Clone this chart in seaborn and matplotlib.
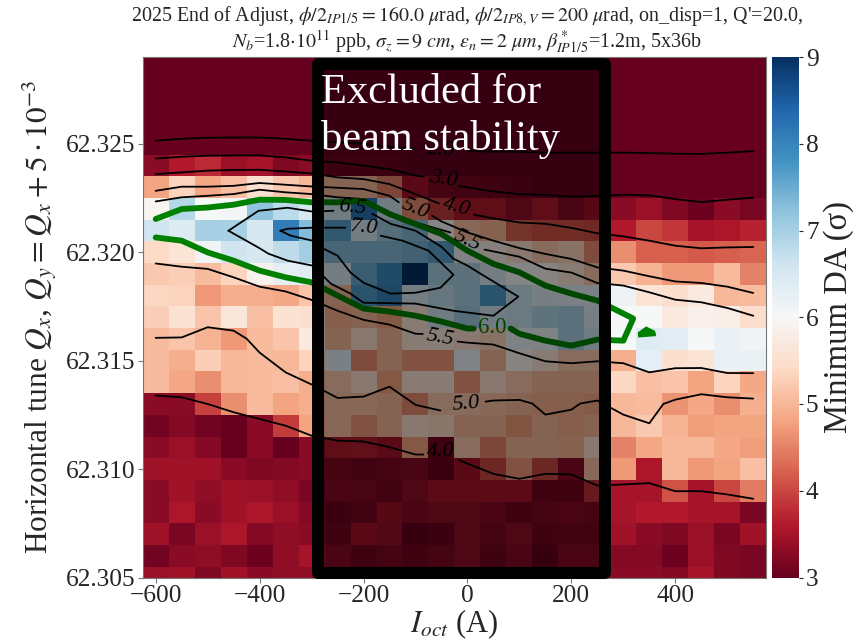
import numpy as np
import pandas as pd
import seaborn as sns
import matplotlib
matplotlib.use("Agg")
import matplotlib.pyplot as plt
from matplotlib.patches import Rectangle

# scan grid
ioct = [-600, -550, -500, -450, -400, -350, -300, -250, -200, -150, -100, -50,
        0, 50, 100, 150, 200, 250, 300, 350, 400, 450, 500, 550]
tunes = [62.329, 62.328, 62.327, 62.326, 62.325, 62.324, 62.323, 62.322, 62.321, 62.320, 62.319, 62.318,
         62.317, 62.316, 62.315, 62.314, 62.313, 62.312, 62.311, 62.310, 62.309, 62.308, 62.307, 62.306, 62.305]

# minimum DA, one row per tune, top of the plot first
floor_row = [3.0] * 24
min_da = [
    floor_row, floor_row, floor_row, floor_row, floor_row,
    [3.3, 3.6, 3.75, 3.4, 3.5, 3.2, 3.3, 3.05, 3.05, 3.05, 3.0, 3.0, 3.0, 3.0, 3.0, 3.0, 3.0, 3.0, 3.0, 3.0, 3.0, 3.0, 3.0, 3.0],
    [4.8, 5.3, 4.85, 5.1, 5.5, 5.2, 5.0, 5.0, 5.0, 4.5, 3.5, 3.2, 3.15, 3.1, 3.05, 3.0, 3.0, 3.0, 3.0, 3.0, 3.0, 3.0, 3.0, 3.0],
    [5.95, 6.85, 6.0, 6.05, 7.2, 6.8, 6.5, 6.6, 8.2, 6.6, 4.6, 3.9, 3.6, 3.6, 3.35, 3.6, 3.25, 3.45, 3.3, 3.4, 3.2, 3.05, 3.3, 3.15],
    [6.6, 6.4, 7.0, 7.0, 6.5, 8.1, 7.3, 7.6, 6.5, 7.1, 7.3, 6.0, 5.1, 4.95, 4.2, 4.1, 4.1, 4.05, 3.6, 4.0, 3.85, 3.5, 3.55, 3.7],
    [5.4, 5.6, 6.1, 6.6, 6.5, 6.75, 7.05, 7.3, 7.3, 7.3, 7.4, 7.6, 6.2, 5.8, 5.5, 5.2, 5.3, 4.6, 4.6, 4.2, 4.2, 4.15, 4.2, 4.25],
    [5.2, 5.25, 5.05, 5.3, 5.9, 6.3, 6.4, 6.5, 7.5, 7.9, 9.0, 7.0, 6.95, 6.5, 6.1, 5.9, 5.6, 5.2, 5.2, 4.95, 4.7, 4.7, 5.05, 4.5],
    [5.35, 5.3, 4.7, 4.9, 4.9, 4.85, 5.15, 5.0, 7.7, 8.0, 6.5, 6.8, 7.0, 7.7, 6.7, 6.4, 6.3, 6.3, 6.15, 5.6, 5.5, 5.7, 5.0, 5.05],
    [5.25, 5.55, 5.15, 5.65, 5.1, 5.55, 5.5, 4.9, 5.0, 4.8, 5.6, 6.6, 7.1, 6.6, 6.7, 6.9, 7.0, 6.4, 6.0, 6.0, 5.7, 5.85, 5.8, 5.45],
    [5.05, 5.15, 4.95, 4.7, 5.05, 5.15, 5.7, 5.0, 5.5, 5.0, 5.6, 5.7, 5.5, 5.3, 6.2, 6.2, 7.0, 6.6, 6.0, 6.4, 6.35, 6.0, 6.2, 6.1],
    [5.05, 4.9, 5.25, 5.0, 5.05, 5.0, 5.3, 6.3, 4.6, 5.0, 4.7, 4.7, 6.2, 5.0, 5.9, 5.6, 5.2, 5.2, 4.9, 6.3, 5.5, 5.6, 6.2, 6.2],
    [5.05, 4.85, 4.6, 5.0, 5.05, 5.1, 4.9, 5.2, 5.5, 4.8, 5.6, 5.6, 4.7, 5.5, 5.2, 5.0, 5.0, 5.0, 5.35, 5.1, 5.15, 4.8, 5.3, 4.85],
    [3.3, 3.3, 3.95, 4.6, 5.05, 4.8, 4.9, 5.1, 5.1, 5.0, 4.6, 5.2, 5.2, 5.1, 5.0, 4.9, 4.9, 4.85, 5.0, 5.05, 4.65, 4.85, 4.6, 4.9],
    [3.1, 3.25, 3.1, 3.02, 3.3, 3.9, 4.8, 5.1, 4.7, 5.0, 5.5, 5.4, 5.0, 5.0, 4.75, 5.0, 4.9, 5.0, 5.0, 5.2, 4.95, 4.75, 4.8, 4.8],
    [3.3, 3.4, 3.25, 3.02, 3.3, 3.02, 3.3, 3.6, 3.65, 3.5, 4.8, 3.1, 5.2, 4.5, 5.0, 5.0, 4.95, 5.5, 4.5, 4.85, 5.0, 5.0, 4.85, 4.75],
    [3.45, 3.45, 3.45, 3.3, 3.2, 3.25, 3.3, 3.2, 3.15, 3.2, 3.3, 3.05, 3.5, 4.0, 4.7, 4.0, 3.3, 5.1, 4.7, 3.55, 5.0, 4.7, 4.8, 5.1],
    [3.3, 3.45, 3.35, 3.45, 3.4, 3.35, 3.15, 3.3, 3.25, 3.15, 3.35, 3.55, 3.55, 3.55, 3.55, 3.1, 3.1, 3.8, 3.5, 3.5, 4.1, 3.5, 4.0, 4.45],
    [3.3, 3.55, 3.3, 3.45, 3.55, 3.4, 3.25, 3.05, 3.15, 3.45, 3.3, 3.35, 3.35, 3.3, 3.1, 3.2, 3.3, 3.2, 3.5, 3.6, 3.6, 3.5, 3.5, 3.15],
    [3.45, 3.15, 3.4, 3.55, 3.25, 3.35, 3.3, 3.1, 3.5, 3.4, 3.0, 3.05, 3.35, 3.2, 3.35, 3.1, 3.15, 3.15, 3.45, 3.3, 3.2, 3.4, 3.15, 3.45],
    [3.1, 3.3, 3.35, 3.2, 3.05, 3.35, 3.5, 3.3, 3.1, 3.2, 3.1, 3.2, 3.35, 3.1, 3.3, 3.0, 3.3, 3.3, 3.25, 3.25, 3.05, 3.4, 3.2, 3.15],
    [3.4, 3.45, 3.2, 3.45, 3.3, 3.35, 3.35, 3.3, 3.2, 3.15, 3.2, 3.2, 3.3, 3.2, 3.25, 3.2, 3.3, 3.3, 3.3, 3.3, 3.25, 3.5, 3.2, 3.15],
]

nan = float("nan")

# contour lines, nan = gap left for the label
x_20 = [-600, -550, -500, -450, -400, -350, -300, -250, -200, -150, -100, nan, 0, 50, 100, 150, 200, 250, 300, 350, 400, 450, 500, 550]
q_20 = [62.32514, 62.32523, 62.32528, 62.32529, 62.32529, 62.32523, 62.32514, 62.32507, 62.32500, 62.32486, 62.32477, nan,
        62.32468, 62.32463, 62.32463, 62.32459, 62.32459, 62.32459, 62.32459, 62.32457, 62.32454, 62.32453, 62.32459, 62.32466]
x_30 = [-600, -550, -500, -450, -400, -350, -300, -250, -200, -150, -100, -84, nan, -17, 0, 50, 100, 150, 200, 250, 300, 350, 400, 450, 500, 550]
q_30 = [62.32432, 62.32440, 62.32445, 62.32446, 62.32446, 62.32437, 62.32422, 62.32414, 62.32399, 62.32383, 62.32353, 62.32348, nan,
        62.32306, 62.32299, 62.32280, 62.32268, 62.32264, 62.32256, 62.32259, 62.32265, 62.32262, 62.32245, 62.32231, 62.32242, 62.32251]
x_40 = [-600, -550, -500, -450, -400, -350, -300, -250, -200, -150, -100, -55, nan, 12, 50, 100, 150, 200, 250, 300, 350, 400, 450, 500, 550]
q_40 = [62.32360, 62.32368, 62.32376, 62.32379, 62.32380, 62.32372, 62.32363, 62.32345, 62.32337, 62.32314, 62.32268, 62.32225, nan,
        62.32173, 62.32156, 62.32137, 62.32131, 62.32112, 62.32087, 62.32073, 62.32053, 62.32030, 62.32018, 62.32022, 62.32024]
x_50 = [-600, -550, -500, -450, -400, -350, -300, -250, -200, -150, -132, nan, -68, -50, 0, 50, 100, 150, 200, 250, 300, 350, 400, 450, 500, 550]
q_50 = [62.32283, 62.32302, 62.32302, 62.32306, 62.32319, 62.32311, 62.32303, 62.32297, 62.32291, 62.32260, 62.32230, nan,
        62.32168, 62.32142, 62.32091, 62.32053, 62.32019, 62.31992, 62.31969, 62.31930, 62.31915, 62.31889, 62.31865, 62.31858, 62.31841, 62.31812]
x_55 = [-600, -550, -500, -450, -400, -350, -300, -250, -200, -150, -100, -33, nan, 33, 100, 150, 200, 250, 300, 350, 400, 450, 500, 550]
q_55 = [62.32234, 62.32253, 62.32260, 62.32268, 62.32288, 62.32276, 62.32268, 62.32253, 62.32245, 62.32183, 62.32137, 62.32091, nan,
        62.32012, 62.31979, 62.31924, 62.31906, 62.31858, 62.31846, 62.31815, 62.31781, 62.31769, 62.31743, 62.31707]
x_60 = [-600, -550, -500, -450, -400, -350, -300, -250, -200, -150, -100, -50, 0, 50, 100, 150, 200, 250, 300, 319,
        300, 250, 200, 150, 100, 83, nan, 12, 0, -50, -100, -150, -200, -250, -300, -350, -400, -450, -500, -550, -600]
q_60 = [62.32153, 62.32199, 62.32206, 62.32219, 62.32242, 62.32241, 62.32230, 62.32230, 62.32237, 62.32176, 62.32130, 62.32084,
        62.32007, 62.31946, 62.31907, 62.31846, 62.31809, 62.31777, 62.31717, 62.31694,
        62.31592, 62.31597, 62.31569, 62.31592, 62.31624, 62.31648, nan,
        62.31648, 62.31648, 62.31680, 62.31707, 62.31726, 62.31740, 62.31800, 62.31861, 62.31884, 62.31915, 62.31961, 62.31999, 62.32053, 62.32068]
x_60b = [329, 344, 360, 362, 330, 329]
q_60b = [62.31628, 62.31654, 62.31635, 62.31616, 62.31610, 62.31628]
x_65 = [-460, -402, -346, -298, -258, nan, -183, -148, -100, -50, -27, 0, 25, 98, 50, -27, -100, -200, -225, -263, -298, -346, -383, -402, -460]
q_65 = [62.32099, 62.32191, 62.32205, 62.32187, 62.32191, nan, 62.32177, 62.32131, 62.32099, 62.32025, 62.31970, 62.31938, 62.31901,
        62.31795, 62.31707, 62.31730, 62.31763, 62.31767, 62.31809, 62.31855, 62.31938, 62.31961, 62.31993, 62.32021, 62.32099]
x_70 = [-360, -346, -298, -235, nan, -167, -125, -75, -27, -52, -100, -148, -200, -225, -250, -277, -298, -340, -360]
q_70 = [62.32099, 62.32108, 62.32113, 62.32113, nan, 62.32076, 62.32053, 62.32007, 62.31896, 62.31836, 62.31813, 62.31809, 62.31859,
        62.31906, 62.31984, 62.32016, 62.32053, 62.32076, 62.32099]
x_55low = [-600, -550, -500, -450, -400, -350, -300, -250, -200, -150, -100, -86, nan, -19, 0, 50, 100, 150, 200, 250, 300, 350, 400, 450, 500, 550]
q_55low = [62.31948, 62.31933, 62.31923, 62.31884, 62.31841, 62.31819, 62.31780, 62.31730, 62.31688, 62.31666, 62.31624, 62.31623, nan,
           62.31588, 62.31583, 62.31574, 62.31534, 62.31497, 62.31488, 62.31497, 62.31488, 62.31446, 62.31465, 62.31466, 62.31443, 62.31442]
x_50low = [-600, -550, -500, -450, -425, -400, -350, -300, -277, -250, -200, -150, -100, -52, nan, 35, 50, 100, 125, 150, 200, 217, 250, 300, 350, 377, 400, 450, 500, 550]
q_50low = [62.31605, 62.31607, 62.31654, 62.31638, 62.31601, 62.31537, 62.31446, 62.31390, 62.31362, 62.31328, 62.31334, 62.31380, 62.31296, 62.31270, nan,
           62.31311, 62.31316, 62.31319, 62.31302, 62.31251, 62.31274, 62.31302, 62.31316, 62.31251, 62.31211, 62.31300, 62.31320, 62.31345, 62.31331, 62.31325]
x_40low = [-600, -550, -500, -450, -400, -350, -300, -250, -200, -150, -100, -85, nan, -17, 0, 50, 100, 150, 200, 250, 300, 350, 400, 450, 500, 550]
q_40low = [62.31339, 62.31331, 62.31300, 62.31262, 62.31231, 62.31200, 62.31154, 62.31131, 62.31127, 62.31101, 62.31067, 62.31067, nan,
           62.31042, 62.31025, 62.30978, 62.30955, 62.30978, 62.30975, 62.30924, 62.30929, 62.30935, 62.30898, 62.30898, 62.30883, 62.30863]

black_lines = [(x_20, q_20), (x_30, q_30), (x_40, q_40), (x_50, q_50), (x_55, q_55), (x_65, q_65),
               (x_70, q_70), (x_55low, q_55low), (x_50low, q_50low), (x_40low, q_40low)]

label_text = ["2.0", "3.0", "4.0", "5.0", "5.5", "6.5", "7.0", "5.5", "5.0", "4.0"]
label_x = [-50, -47, -21, -100, 0, -221, -200, -52, -2, -52]
label_q = [62.32468, 62.32334, 62.32205, 62.32200, 62.32053, 62.32206, 62.32113, 62.31603, 62.31297, 62.31078]
label_rot = [-3, -8, -15, -22, -25, -5, -5, -10, 5, 2]

x_ticks = [-600, -400, -200, 0, 200, 400]
x_tick_labels = ["\u2212600", "\u2212400", "\u2212200", "0", "200", "400"]
y_ticks = [62.305, 62.310, 62.315, 62.320, 62.325]
cbar_ticks = [3, 4, 5, 6, 7, 8, 9]

title = (r"2025 End of Adjust, $\phi/2_{IP1/5}=160.0$ $\mu$rad, $\phi/2_{IP8,V}=200$ $\mu$rad, on_disp=1, Q'=20.0," + "\n"
         r"$N_b$=1.8$\cdot10^{11}$ ppb, $\sigma_z=9$ $cm$, $\epsilon_n=2$ $\mu m$, $\beta^*_{IP1/5}$=1.2m, 5x36b")


# heatmap cells sit on 0,1,2.. so everything else has to go through these
def xpos(a):
    return (np.asarray(a, dtype=float) + 600) / 50 + 0.5

def ypos(q):
    return (np.asarray(q, dtype=float) - 62.305) / 0.001 + 0.5


sns.set_style("ticks")
plt.rcParams['font.family'] = ['Liberation Serif', 'DejaVu Serif']
plt.rcParams['mathtext.fontset'] = 'stix'

W, H = 862, 643
fig = plt.figure(figsize=(W / 100, H / 100), dpi=100)
ax = fig.add_axes([142.7 / W, 1 - 577.5 / H, 623.5 / W, 520.5 / H])
cax = fig.add_axes([772 / W, 1 - 577.5 / H, 27 / W, 520.5 / H])

df = pd.DataFrame(min_da, index=tunes, columns=ioct).sort_index()
sns.heatmap(df, ax=ax, cbar_ax=cax, cmap="RdBu", vmin=3, vmax=9,
            xticklabels=False, yticklabels=False, zorder=1)
ax.set_ylim(0.5, 24.5)

for xs, qs in black_lines:
    ax.plot(xpos(xs), ypos(qs), color="black", lw=1.3, zorder=2)
ax.plot(xpos(x_60), ypos(q_60), color="green", lw=4.2, zorder=2)
ax.fill(xpos(x_60b), ypos(q_60b), color="green", lw=1, zorder=2)

for txt, a, q, rot in zip(label_text, label_x, label_q, label_rot):
    ax.text(xpos(a), ypos(q), txt, fontsize=16, style="italic", rotation=rot,
            ha="center", va="center", color="black", zorder=2)
ax.text(xpos(48), ypos(62.31652), "6.0", fontsize=16.5, color="green", ha="center", va="center", zorder=2)

# excluded band
box = Rectangle((xpos(-287), ypos(62.30522)), xpos(265) - xpos(-287), ypos(62.32869) - ypos(62.30522),
                facecolor=(0, 0, 0, 0.46), edgecolor="black", lw=8.6, joinstyle="round", zorder=3, clip_on=False)
ax.add_patch(box)
ax.text(xpos(-281), ypos(62.32826), "Excluded for\nbeam stability", color="white", fontsize=30.5,
        ha="left", va="top", linespacing=1.27, zorder=4)

ax.set_xticks(xpos(x_ticks))
ax.set_xticklabels(x_tick_labels, fontsize=18.3)
ax.set_yticks(ypos(y_ticks))
ax.set_yticklabels(["%.3f" % t for t in y_ticks], fontsize=18.3, rotation=0)
ax.tick_params(length=3.5, width=0.8, color="#777777", pad=2)
for s in ax.spines.values():
    s.set_visible(True)
    s.set_color("#777777")
    s.set_linewidth(0.8)

ax.set_xlabel(r"$I_{oct}$ (A)", fontsize=22, labelpad=0)
ax.set_ylabel(r"Horizontal tune $Q_x$, $Q_y=Q_x+5\cdot10^{-3}$", fontsize=22.6, labelpad=4)

cax.set_yticks(cbar_ticks)
cax.set_yticklabels([str(t) for t in cbar_ticks], fontsize=18.3)
cax.tick_params(length=3, width=0.8, pad=2)
cax.set_ylabel("Minimum DA (\u03c3)", fontsize=23.5, labelpad=3)

fig.text(467 / W, 1 - 30 / H, title, fontsize=14.4, ha="center", va="center", linespacing=1.08)

fig.savefig("out.png", dpi=100)
